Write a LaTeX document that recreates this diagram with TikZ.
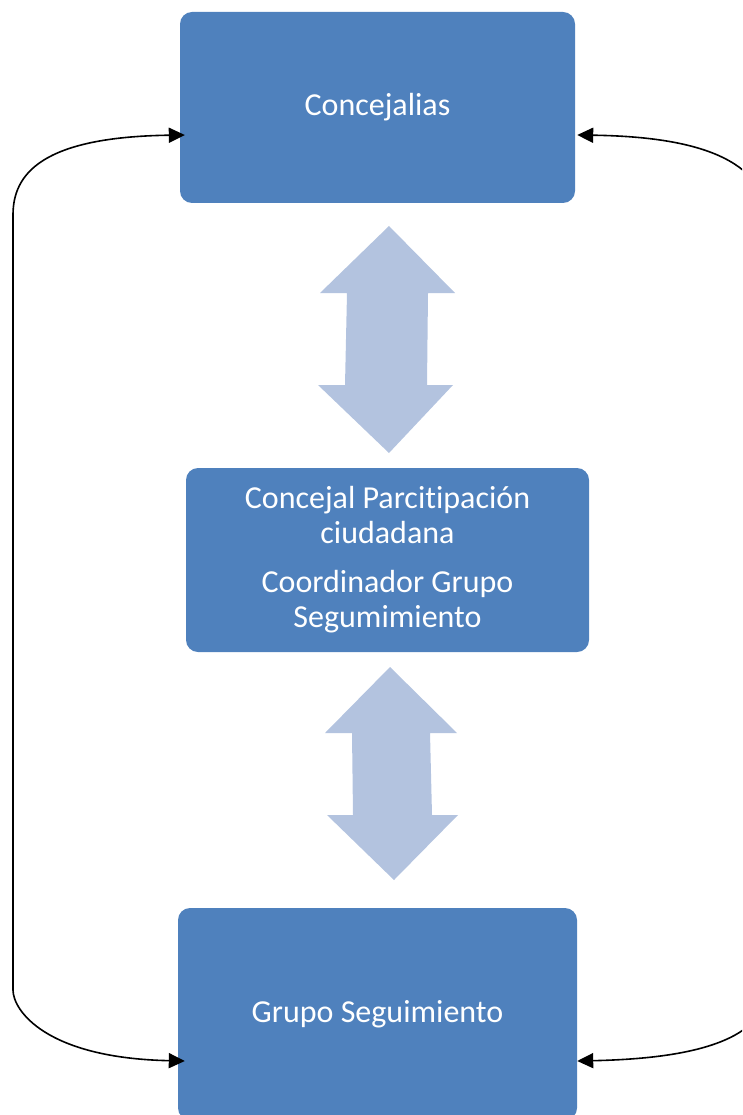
\documentclass[tikz,border=0pt]{standalone}
\usepackage{fontspec}
\setmainfont{Carlito}[Ligatures=NoCommon]
\usepackage{tikz}
\usetikzlibrary{arrows.meta, positioning}
\definecolor{boxblue}{HTML}{4F81BD}
\definecolor{arrowblue}{HTML}{B3C3DF}
\tikzstyle{block}=[rectangle, rounded corners=12pt, fill=boxblue, text=white, align=center, font=\fontsize{32}{35}\selectfont]
\tikzstyle{link}=[black, line width=1.6pt, {Triangle[length=16pt,width=15pt]}-{Triangle[length=16pt,width=15pt]}]
\tikzstyle{bigarrow}=[fill=arrowblue]

\begin{document}
\begin{tikzpicture}[x=1pt,y=-1pt]
    \useasboundingbox (0,0) rectangle (742,1115);
    \clip (0,0) rectangle (742,1115);

    % Boxes.
    \node[block, minimum width=395pt, minimum height=191pt] (conc) at (377.5,107.5) {Concejalias};
    \node[block, minimum width=403pt, minimum height=184pt] (coord) at (387.5,560)
      {Concejal Parcitipación\\ciudadana\\[14pt]Coordinador Grupo\\Segumimiento};
    \node[block, minimum width=399pt, minimum height=212pt] (grupo) at (377.5,1014) {Grupo Seguimiento};

    % Double arrows.
    \fill[bigarrow] (389,226) -- (455,293) -- (428,293) -- (427,385) -- (453,385)
      -- (389,453) -- (318,385) -- (345,385) -- (347,293) -- (320,293) -- cycle;
    \fill[bigarrow] (390,667) -- (457,733) -- (430,733) -- (432,815) -- (458,815)
      -- (394,880) -- (327,815) -- (353,815) -- (352,733) -- (325,733) -- cycle;

    % Loops.
    \draw[link] ([xshift=5pt, yshift=-27.5pt]conc.west)
      .. controls (40,137) and (13,175) .. (13,215)
      -- (13,990)
      .. controls (13,1010) and (45,1058) .. ([xshift=7pt, yshift=-47pt]grupo.west);
    \draw[link] ([xshift=2pt, yshift=-27.5pt]conc.east)
      .. controls (720,137) and (770,170) .. (770,230)
      -- (770,980)
      .. controls (770,1030) and (720,1058) .. ([xshift=0pt, yshift=-47pt]grupo.east);
\end{tikzpicture}
\end{document}
